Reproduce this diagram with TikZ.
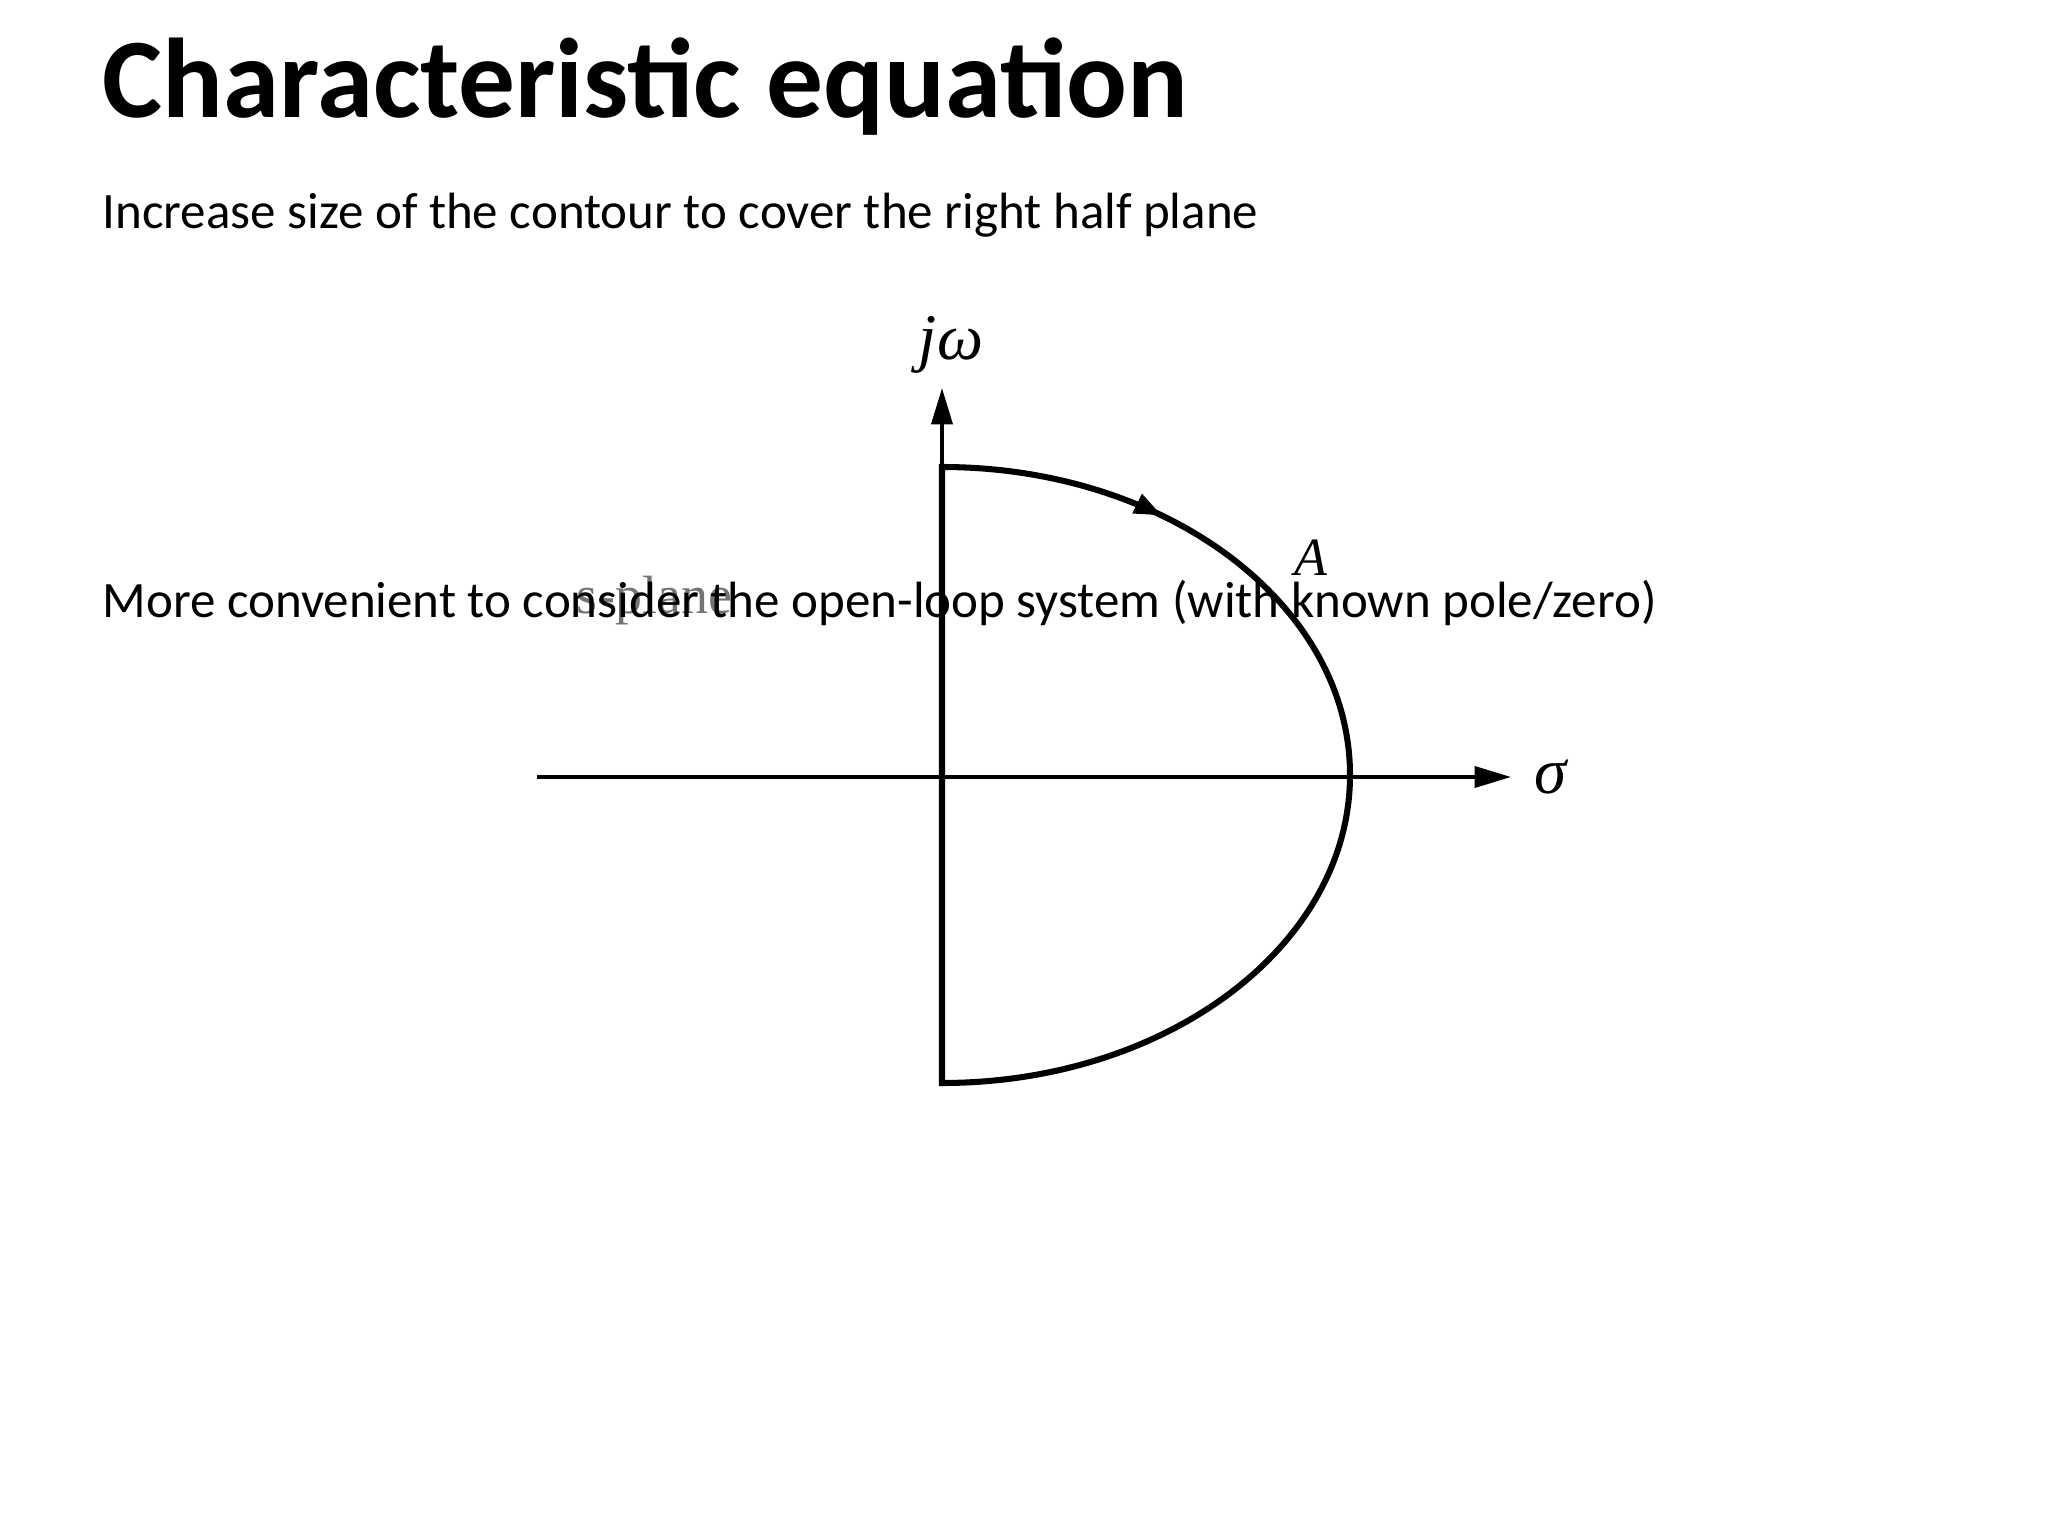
\documentclass[tikz,border=0pt]{standalone}
\usepackage{amsmath}
\usepackage{fontspec}
\setmainfont{Carlito}
\newfontfamily\figfont{Liberation Serif}
\usepackage{tikz}
\usetikzlibrary{calc}
\usetikzlibrary{arrows.meta}
\usetikzlibrary{decorations.markings}

\begin{document}
\begin{tikzpicture}[x=0.1240234375mm,y=-0.1240234375mm,
		title/.style={anchor=base west,inner sep=0pt,font=\fontsize{40}{48}\selectfont\bfseries},
		body/.style={anchor=base west,inner sep=0pt,font=\fontsize{18}{22}\selectfont},
		axis/.style={line width=0.45mm,-{Triangle[length=4.5mm,width=2.6mm]}},
		contour/.style={line width=0.75mm,line join=miter,postaction={decorate},
			decoration={markings,mark=at position 0.13 with {\arrow{Triangle[length=3.4mm,width=2.5mm]}}}},
		lbl/.style={inner sep=0pt,font=\fontsize{23}{27}\selectfont\figfont\itshape}]
		\useasboundingbox (0,0) rectangle (2048,1536);
		
		\coordinate (origin) at (942,777);
		\coordinate (top)    at (942,467);
		\coordinate (bottom) at (942,1083);
		\coordinate (ytip)   at (942,388);
		\coordinate (xleft)  at (537,777);
		\coordinate (xtip)   at (1511,777);
		
		\draw[axis] (xleft) -- (xtip);
		\draw[axis] (bottom) -- (ytip);
		\draw[contour] (top) arc[start angle=-90,end angle=90,x radius=408,y radius=308] -- cycle;
		
		\node[lbl]            (jw)     at (951,345)  {jω};
		\node[lbl]            (sigma)  at (1551,777) {σ};
		\node[lbl,font=\fontsize{19}{23}\selectfont\figfont\itshape] (A) at (1311,558) {A};
		\node[anchor=base west,inner sep=0pt,text=black!55,font=\fontsize{19}{23}\selectfont\figfont]
			(splane) at (576,613) {s-plane};
		
		\node[title] (head) at (102,118) {Characteristic equation};
		\node[body]  (sub)  at (102,229) {Increase size of the contour to cover the right half plane};
		\node[body]  (note) at (102,617) {More convenient to consider the open-loop system (with known pole/zero)};
		\end{tikzpicture}
\end{document}
